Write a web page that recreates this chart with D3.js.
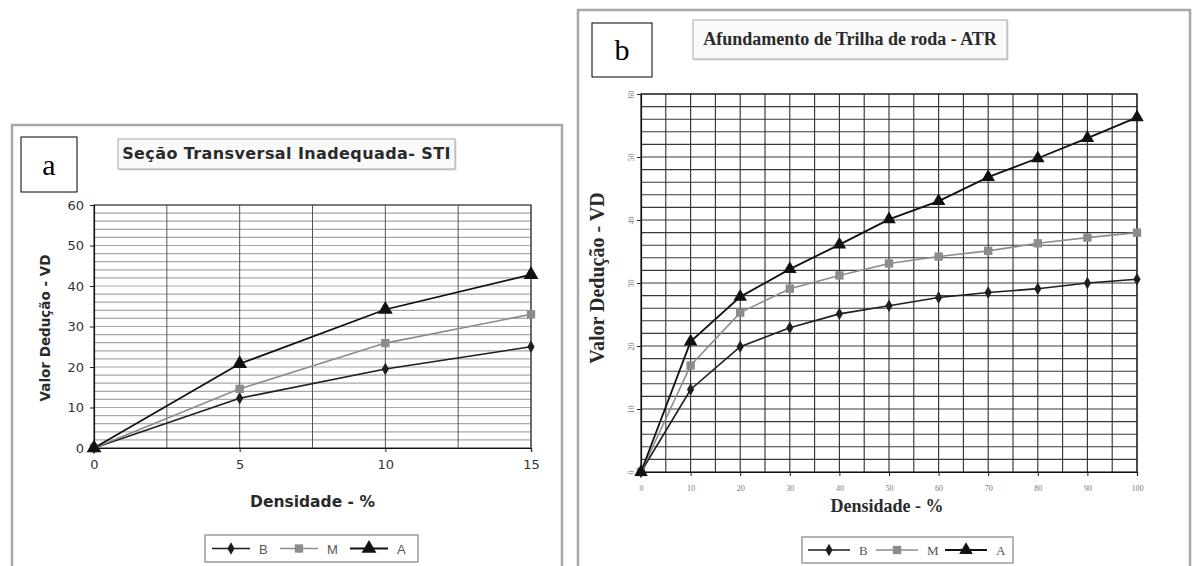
<!DOCTYPE html>
<html>
<head>
<meta charset="utf-8">
<script src="https://cdn.jsdelivr.net/npm/d3@7"></script>
<style>
  html, body { margin: 0; padding: 0; background: #fff; }
  svg { display: block; }
</style>
</head>
<body>
<svg id="chart" width="1192" height="566"></svg>
<script>
// ---- Data ----
const seriesNames = ["B", "M", "A"];

// Panel a: Seção Transversal Inadequada - STI
const stiDensity = [0, 5, 10, 15];
const stiB = [0, 12.3, 19.5, 25.0];
const stiM = [0, 14.6, 25.9, 33.0];
const stiA = [0, 20.8, 34.2, 42.8];
const stiXTicks = [0, 5, 10, 15];
const stiYTicks = [0, 10, 20, 30, 40, 50, 60];

// Panel b: Afundamento de Trilha de roda - ATR
const atrDensity = [0, 10, 20, 30, 40, 50, 60, 70, 80, 90, 100];
const atrB = [0, 13.1, 19.9, 22.9, 25.1, 26.4, 27.7, 28.5, 29.1, 30.0, 30.6];
const atrM = [0, 16.9, 25.3, 29.1, 31.2, 33.1, 34.2, 35.1, 36.3, 37.2, 38.0];
const atrA = [0, 20.7, 27.8, 32.2, 36.1, 40.1, 43.0, 46.8, 49.8, 53.0, 56.3];
const atrXTicks = [0, 10, 20, 30, 40, 50, 60, 70, 80, 90, 100];
const atrYTicks = [0, 10, 20, 30, 40, 50, 60];

const svg = d3.select("#chart");

const seriesStyle = {
  B: { color: "#1e1e1e", symbol: d3.symbolDiamond, width: 1.6 },
  M: { color: "#8c8c8c", symbol: d3.symbolSquare, width: 1.6 },
  A: { color: "#111111", symbol: d3.symbolTriangle, width: 1.8 }
};

function drawPanel(cfg) {
  const g = svg.append("g");

  // outer frame
  g.append("rect")
    .attr("x", cfg.frame[0]).attr("y", cfg.frame[1])
    .attr("width", cfg.frame[2]).attr("height", cfg.frame[3])
    .attr("fill", "none").attr("stroke", "#a9a9a9").attr("stroke-width", 2.5);

  // letter box
  g.append("rect")
    .attr("x", cfg.letterBox[0]).attr("y", cfg.letterBox[1])
    .attr("width", cfg.letterBox[2]).attr("height", cfg.letterBox[3])
    .attr("fill", "#fff").attr("stroke", "#000").attr("stroke-width", 1);
  g.append("text")
    .attr("x", cfg.letterBox[0] + cfg.letterBox[2] / 2)
    .attr("y", cfg.letterBox[1] + cfg.letterBox[3] / 2 + 10)
    .attr("text-anchor", "middle")
    .attr("font-family", "Liberation Serif, Times New Roman, serif")
    .attr("font-size", 30).attr("fill", "#000")
    .text(cfg.letter);

  // title box
  g.append("rect")
    .attr("x", cfg.titleBox[0] + 1.5).attr("y", cfg.titleBox[1] + 1.5)
    .attr("width", cfg.titleBox[2]).attr("height", cfg.titleBox[3])
    .attr("fill", "#d8d8d8");
  g.append("rect")
    .attr("x", cfg.titleBox[0]).attr("y", cfg.titleBox[1])
    .attr("width", cfg.titleBox[2]).attr("height", cfg.titleBox[3])
    .attr("fill", "#fafafa").attr("stroke", "#b5b5b5").attr("stroke-width", 1.2);
  g.append("text")
    .attr("x", cfg.titleBox[0] + cfg.titleBox[2] / 2)
    .attr("y", cfg.titleBox[1] + cfg.titleBox[3] / 2 + 5)
    .attr("text-anchor", "middle")
    .attr("font-family", cfg.titleFont)
    .attr("font-weight", "bold")
    .attr("letter-spacing", cfg.titleSpacing)
    .attr("font-size", cfg.titleSize).attr("fill", "#2a2a2a")
    .text(cfg.title);

  const x = d3.scaleLinear().domain(cfg.xDomain).range([cfg.plot.left, cfg.plot.right]);
  const y = d3.scaleLinear().domain(cfg.yDomain).range([cfg.plot.bottom, cfg.plot.top]);

  // horizontal grid (minor steps)
  const hGrid = d3.range(cfg.yDomain[0] + cfg.hStep, cfg.yDomain[1] + 0.001, cfg.hStep);
  g.append("g").selectAll("line").data(hGrid).join("line")
    .attr("x1", cfg.plot.left).attr("x2", cfg.plot.right)
    .attr("y1", d => y(d)).attr("y2", d => y(d))
    .attr("stroke", cfg.hGridColor).attr("stroke-width", cfg.hGridWidth);

  // vertical grid
  const vGrid = d3.range(cfg.xDomain[0] + cfg.vStep, cfg.xDomain[1] + 0.001, cfg.vStep);
  g.append("g").selectAll("line").data(vGrid).join("line")
    .attr("y1", cfg.plot.top).attr("y2", cfg.plot.bottom)
    .attr("x1", d => x(d)).attr("x2", d => x(d))
    .attr("stroke", cfg.vGridColor).attr("stroke-width", cfg.vGridWidth);

  // plot border
  g.append("rect")
    .attr("x", cfg.plot.left).attr("y", cfg.plot.top)
    .attr("width", cfg.plot.right - cfg.plot.left)
    .attr("height", cfg.plot.bottom - cfg.plot.top)
    .attr("fill", "none").attr("stroke", cfg.borderColor).attr("stroke-width", 1.2);

  // axes
  const yAxis = d3.axisLeft(y).tickValues(cfg.yTicks).tickSize(cfg.tickSize).tickPadding(cfg.yPad);
  const yg = g.append("g").attr("transform", `translate(${cfg.plot.left},0)`).call(yAxis);
  const xAxis = d3.axisBottom(x).tickValues(cfg.xTicks).tickSize(cfg.tickSize).tickPadding(cfg.xPad);
  const xg = g.append("g").attr("transform", `translate(0,${cfg.plot.bottom})`).call(xAxis);
  [yg, xg].forEach(ax => {
    ax.select(".domain").attr("stroke", "#111").attr("stroke-width", 1.2);
    ax.selectAll(".tick line").attr("stroke", "#222");
    ax.selectAll(".tick text")
      .attr("font-family", cfg.tickFont)
      .attr("font-size", cfg.tickSize2)
      .attr("fill", cfg.tickColor);
  });
  if (cfg.rotateYTicks) {
    yg.selectAll(".tick text")
      .attr("text-anchor", "middle")
      .attr("x", null).attr("dy", null)
      .attr("transform", `translate(${-cfg.yPad - 4},0) rotate(-90)`);
  }

  // axis titles
  g.append("text")
    .attr("x", (cfg.plot.left + cfg.plot.right) / 2 + cfg.xTitleDx)
    .attr("y", cfg.xTitleY)
    .attr("text-anchor", "middle")
    .attr("font-family", cfg.axisFont).attr("font-weight", "bold")
    .attr("font-size", cfg.axisTitleSize).attr("fill", "#2a2a2a")
    .text("Densidade - %");
  g.append("text")
    .attr("transform", `translate(${cfg.yTitleX},${cfg.yTitleCY}) rotate(-90)`)
    .attr("text-anchor", "middle")
    .attr("font-family", cfg.axisFont).attr("font-weight", "bold")
    .attr("font-size", cfg.yTitleSize).attr("fill", "#2a2a2a")
    .text("Valor Dedução - VD");

  // series lines and markers
  const line = d3.line().x(d => x(d[0])).y(d => y(d[1]));
  cfg.series.forEach((vals, i) => {
    const name = seriesNames[i];
    const st = seriesStyle[name];
    const pts = cfg.xValues.map((d, j) => [d, vals[j]]);
    g.append("path").datum(pts)
      .attr("d", line).attr("fill", "none")
      .attr("stroke", st.color).attr("stroke-width", st.width);
  });
  cfg.series.forEach((vals, i) => {
    const name = seriesNames[i];
    const st = seriesStyle[name];
    const pts = cfg.xValues.map((d, j) => [d, vals[j]]);
    g.append("g").selectAll("path").data(pts).join("path")
      .attr("d", d3.symbol().type(st.symbol).size(cfg.markerSize[name]))
      .attr("transform", d => `translate(${x(d[0])},${y(d[1])})`)
      .attr("fill", st.color);
  });

  // legend
  const L = cfg.legend;
  g.append("rect")
    .attr("x", L.box[0]).attr("y", L.box[1]).attr("width", L.box[2]).attr("height", L.box[3])
    .attr("fill", "#fff").attr("stroke", "#9a9a9a").attr("stroke-width", 1.5);
  const cy = L.box[1] + L.box[3] / 2;
  seriesNames.forEach((name, i) => {
    const st = seriesStyle[name];
    const x0 = L.items[i];
    g.append("line")
      .attr("x1", x0).attr("x2", x0 + L.lineLen)
      .attr("y1", cy).attr("y2", cy)
      .attr("stroke", st.color).attr("stroke-width", st.width);
    g.append("path")
      .attr("d", d3.symbol().type(st.symbol).size(cfg.markerSize[name]))
      .attr("transform", `translate(${x0 + L.lineLen / 2},${cy})`)
      .attr("fill", st.color);
    g.append("text")
      .attr("x", x0 + L.lineLen + L.textGap).attr("y", cy + 5)
      .attr("font-family", L.font).attr("font-size", L.fontSize)
      .attr("fill", "#555")
      .text(name);
  });
}

// Panel a
drawPanel({
  frame: [12, 125, 550, 445],
  letter: "a",
  letterBox: [21, 137, 56, 55],
  title: "Seção Transversal Inadequada- STI",
  titleBox: [118, 139, 337, 30],
  titleFont: "DejaVu Sans, Verdana, sans-serif",
  titleSize: 16, titleSpacing: 0.4,
  plot: { left: 94, right: 531, top: 205, bottom: 448 },
  xDomain: [0, 15], yDomain: [0, 60],
  xTicks: stiXTicks, yTicks: stiYTicks,
  hStep: 2, vStep: 2.5,
  hGridColor: "#a8a8a8", hGridWidth: 1.2,
  vGridColor: "#555", vGridWidth: 1,
  borderColor: "#444",
  tickSize: 4, yPad: 6, xPad: 8,
  tickFont: "DejaVu Sans, Verdana, sans-serif", tickSize2: 13, tickColor: "#333",
  rotateYTicks: false,
  axisFont: "DejaVu Sans, Verdana, sans-serif", axisTitleSize: 15.5, yTitleSize: 13.5,
  xTitleY: 507, xTitleDx: 0,
  yTitleX: 50, yTitleCY: 328,
  xValues: stiDensity,
  series: [stiB, stiM, stiA],
  markerSize: { B: 45, M: 70, A: 95 },
  legend: {
    box: [205, 535, 213, 27],
    items: [212, 280, 350],
    lineLen: 38, textGap: 9,
    font: "Liberation Sans, Arial, sans-serif", fontSize: 13
  }
});

// Panel b
drawPanel({
  frame: [578, 10, 612, 560],
  letter: "b",
  letterBox: [592, 23, 60, 54],
  title: "Afundamento de Trilha de roda - ATR",
  titleBox: [693, 20, 314, 39],
  titleFont: "Liberation Serif, Times New Roman, serif",
  titleSize: 18, titleSpacing: 0,
  plot: { left: 641, right: 1137, top: 94, bottom: 472 },
  xDomain: [0, 100], yDomain: [0, 60],
  xTicks: atrXTicks, yTicks: atrYTicks,
  hStep: 2, vStep: 5,
  hGridColor: "#3a3a3a", hGridWidth: 1.1,
  vGridColor: "#2e2e2e", vGridWidth: 1.1,
  borderColor: "#222",
  tickSize: 4, yPad: 3, xPad: 9,
  tickFont: "Liberation Serif, Times New Roman, serif", tickSize2: 8, tickColor: "#777",
  rotateYTicks: true,
  axisFont: "Liberation Serif, Times New Roman, serif", axisTitleSize: 18, yTitleSize: 20,
  xTitleY: 512, xTitleDx: -2,
  yTitleX: 604, yTitleCY: 278,
  xValues: atrDensity,
  series: [atrB, atrM, atrA],
  markerSize: { B: 45, M: 70, A: 80 },
  legend: {
    box: [802, 537, 211, 26],
    items: [808, 876, 945],
    lineLen: 42, textGap: 9,
    font: "Liberation Serif, Times New Roman, serif", fontSize: 13
  }
});
</script>
</body>
</html>
